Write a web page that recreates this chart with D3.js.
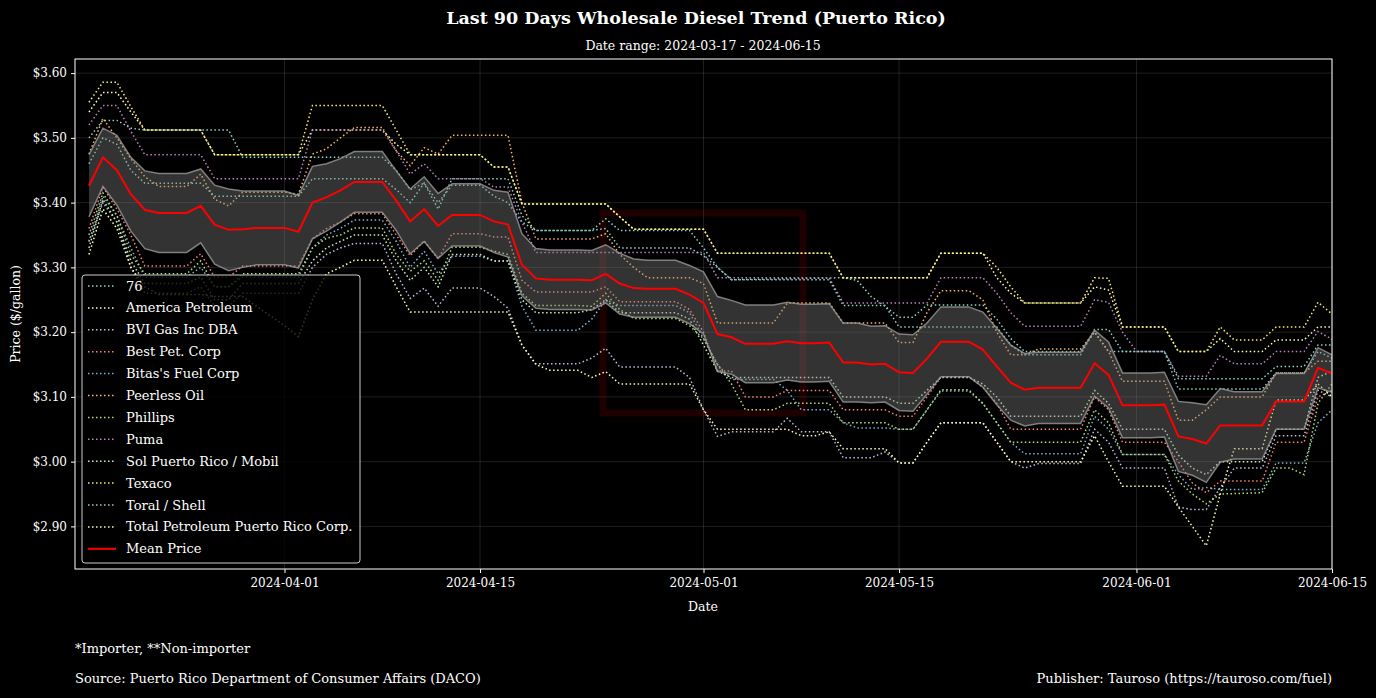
<!DOCTYPE html>
<html><head><meta charset="utf-8">
<script src="https://cdn.jsdelivr.net/npm/d3@7"></script>
<style>
html,body{margin:0;padding:0;background:#000;}
svg{display:block;}
text{font-family:"DejaVu Serif",serif;fill:#fff;}
</style></head><body>
<svg id="c" width="1376" height="698"></svg>
<script>
// ---------- DATA (day offset from 2024-03-17, price $/gal) ----------
const startDate = "2024-03-17";
const endDate = "2024-06-15";
const companies = ["76","America Petroleum","BVI Gas Inc DBA","Best Pet. Corp","Bitas's Fuel Corp","Peerless Oil","Phillips","Puma","Sol Puerto Rico / Mobil","Texaco","Toral / Shell","Total Petroleum Puerto Rico Corp."];

const s76 = [[1,3.50],[2,3.527],[3,3.527],[4,3.515],[5,3.512],[11,3.512],[12,3.470],[22,3.470],[23,3.45],[24,3.42],[25,3.43],[26,3.40],[27,3.427],[29,3.427],[30,3.41],[31,3.40],[32,3.37],[33,3.357],[37,3.357],[38,3.375],[39,3.357],[44,3.357],[45,3.33],[46,3.30],[47,3.281],[55,3.284],[56,3.28],[57,3.255],[58,3.24],[59,3.223],[60,3.223],[61,3.242],[65,3.242],[66,3.22],[67,3.19],[68,3.17],[72,3.17],[73,3.20],[74,3.17],[78,3.17],[79,3.128],[85,3.128],[86,3.147],[88,3.147],[89,3.18],[90,3.18]];
const sAmerica = [[1,3.54],[2,3.570],[3,3.570],[4,3.54],[5,3.512],[9,3.512],[10,3.474],[16,3.474],[17,3.512],[22,3.512],[23,3.49],[24,3.474],[29,3.474],[30,3.455],[31,3.455],[32,3.398],[38,3.398],[39,3.378],[40,3.359],[45,3.359],[46,3.322],[54,3.322],[55,3.284],[61,3.284],[62,3.322],[65,3.322],[66,3.284],[67,3.26],[68,3.245],[72,3.245],[73,3.270],[74,3.265],[75,3.208],[78,3.208],[79,3.170],[81,3.170],[82,3.19],[83,3.170],[85,3.170],[86,3.188],[88,3.188],[89,3.208],[90,3.208]];
const sBVI = [[1,3.34],[2,3.40],[3,3.37],[4,3.30],[5,3.26],[8,3.26],[9,3.27],[10,3.24],[11,3.24],[12,3.26],[16,3.26],[17,3.30],[18,3.32],[19,3.33],[20,3.337],[22,3.337],[23,3.29],[24,3.252],[25,3.268],[26,3.24],[27,3.268],[29,3.268],[30,3.255],[31,3.237],[32,3.18],[33,3.151],[36,3.151],[37,3.16],[38,3.175],[39,3.146],[43,3.146],[44,3.13],[45,3.08],[46,3.039],[47,3.046],[50,3.046],[51,3.067],[52,3.046],[54,3.046],[55,3.006],[57,3.006],[58,3.015],[59,2.998],[60,2.998],[61,3.03],[62,3.06],[65,3.06],[66,3.03],[67,3.0],[68,2.99],[69,2.997],[72,2.997],[73,3.05],[74,3.03],[75,2.99],[78,2.99],[79,2.93],[80,2.926],[81,2.926],[82,2.96],[83,2.99],[85,2.99],[86,3.04],[88,3.04],[89,3.11],[90,3.10]];
const sBest = [[1,3.36],[2,3.424],[3,3.39],[4,3.35],[5,3.302],[8,3.302],[9,3.321],[10,3.285],[11,3.285],[12,3.302],[16,3.302],[17,3.344],[18,3.36],[19,3.37],[20,3.383],[22,3.383],[23,3.35],[24,3.318],[25,3.341],[26,3.313],[27,3.352],[29,3.352],[30,3.347],[31,3.347],[32,3.28],[33,3.262],[37,3.262],[38,3.27],[39,3.247],[43,3.247],[44,3.235],[45,3.20],[46,3.14],[47,3.14],[48,3.10],[50,3.10],[51,3.11],[54,3.11],[55,3.08],[58,3.08],[59,3.07],[60,3.07],[61,3.10],[62,3.131],[64,3.131],[65,3.115],[66,3.09],[67,3.05],[72,3.05],[73,3.10],[74,3.08],[75,3.03],[78,3.03],[79,3.0],[80,2.967],[81,2.952],[82,2.97],[85,2.97],[86,3.03],[88,3.03],[89,3.10],[90,3.11]];
const sBitas = [[1,3.34],[2,3.41],[3,3.38],[4,3.33],[5,3.285],[8,3.285],[9,3.30],[10,3.27],[11,3.27],[12,3.285],[16,3.285],[17,3.33],[18,3.35],[19,3.36],[20,3.373],[22,3.373],[23,3.34],[24,3.30],[25,3.325],[26,3.29],[27,3.317],[29,3.317],[30,3.31],[31,3.31],[32,3.24],[33,3.203],[36,3.203],[37,3.22],[38,3.25],[39,3.241],[43,3.241],[44,3.23],[45,3.19],[46,3.15],[47,3.127],[50,3.127],[51,3.11],[52,3.08],[54,3.08],[55,3.06],[56,3.052],[58,3.052],[59,3.05],[60,3.05],[61,3.08],[62,3.109],[64,3.109],[65,3.09],[66,3.06],[67,3.03],[68,3.012],[72,3.012],[73,3.07],[74,3.05],[75,3.011],[78,3.011],[79,2.98],[80,2.957],[81,2.96],[82,2.957],[85,2.957],[86,2.998],[88,2.998],[89,3.06],[90,3.08]];
const sPeerless = [[1,3.475],[2,3.53],[3,3.50],[4,3.468],[5,3.44],[6,3.425],[8,3.425],[9,3.444],[10,3.405],[11,3.395],[12,3.416],[15,3.416],[16,3.413],[17,3.475],[18,3.483],[19,3.50],[20,3.516],[22,3.516],[23,3.48],[24,3.457],[25,3.485],[26,3.475],[27,3.504],[31,3.504],[32,3.40],[33,3.344],[37,3.344],[38,3.352],[39,3.32],[40,3.30],[41,3.284],[44,3.284],[45,3.275],[46,3.214],[50,3.214],[51,3.245],[54,3.245],[55,3.214],[58,3.214],[59,3.184],[60,3.184],[61,3.23],[62,3.264],[64,3.264],[65,3.25],[66,3.20],[67,3.165],[68,3.165],[69,3.174],[72,3.174],[73,3.20],[74,3.17],[75,3.124],[78,3.124],[79,3.064],[80,3.064],[81,3.08],[82,3.10],[85,3.10],[86,3.137],[88,3.137],[89,3.155],[90,3.155]];
const sPhillips = [[1,3.35],[2,3.415],[3,3.38],[4,3.32],[5,3.29],[8,3.29],[9,3.31],[10,3.27],[11,3.27],[12,3.29],[16,3.29],[17,3.33],[18,3.345],[19,3.35],[20,3.361],[22,3.361],[23,3.32],[24,3.294],[25,3.31],[26,3.28],[27,3.331],[29,3.331],[30,3.325],[31,3.32],[32,3.26],[33,3.241],[36,3.241],[37,3.24],[38,3.26],[39,3.235],[40,3.221],[43,3.221],[44,3.21],[45,3.19],[46,3.15],[47,3.12],[48,3.08],[50,3.08],[51,3.09],[54,3.09],[55,3.06],[58,3.06],[59,3.05],[60,3.05],[61,3.08],[62,3.111],[64,3.111],[65,3.09],[66,3.06],[67,3.03],[72,3.03],[73,3.08],[74,3.06],[75,3.011],[78,3.011],[79,2.97],[80,2.95],[81,2.935],[82,2.95],[85,2.952],[86,2.99],[87,2.99],[88,2.98],[89,3.09],[90,3.12]];
const sPuma = [[1,3.52],[2,3.550],[3,3.550],[4,3.51],[5,3.474],[9,3.474],[10,3.437],[16,3.437],[17,3.512],[22,3.512],[23,3.48],[24,3.444],[25,3.46],[26,3.437],[29,3.437],[30,3.424],[31,3.424],[32,3.37],[33,3.323],[45,3.323],[46,3.284],[54,3.284],[55,3.245],[61,3.245],[62,3.284],[65,3.284],[66,3.26],[67,3.23],[68,3.209],[72,3.209],[73,3.25],[74,3.246],[75,3.20],[76,3.17],[78,3.17],[79,3.132],[81,3.132],[82,3.164],[83,3.151],[85,3.151],[86,3.170],[88,3.170],[89,3.201],[90,3.189]];
const sSol = [[1,3.33],[2,3.405],[3,3.37],[4,3.31],[5,3.275],[8,3.275],[9,3.285],[10,3.25],[11,3.25],[12,3.275],[16,3.275],[17,3.31],[18,3.33],[19,3.34],[20,3.35],[22,3.35],[23,3.31],[24,3.28],[25,3.30],[26,3.27],[27,3.32],[29,3.32],[30,3.31],[31,3.31],[32,3.25],[33,3.23],[36,3.23],[37,3.235],[38,3.25],[39,3.23],[43,3.23],[44,3.22],[45,3.18],[46,3.14],[47,3.13],[54,3.13],[55,3.10],[58,3.10],[59,3.09],[60,3.09],[61,3.11],[62,3.13],[64,3.13],[65,3.12],[66,3.10],[67,3.07],[72,3.07],[73,3.11],[74,3.09],[75,3.05],[78,3.05],[79,3.01],[80,2.99],[81,2.98],[82,3.0],[85,3.0],[86,3.05],[88,3.05],[89,3.13],[90,3.14]];
const sTexaco = [[1,3.555],[2,3.586],[3,3.586],[4,3.548],[5,3.512],[9,3.512],[10,3.474],[16,3.474],[17,3.550],[22,3.550],[23,3.512],[24,3.474],[29,3.474],[30,3.455],[31,3.455],[32,3.398],[38,3.398],[39,3.378],[40,3.359],[45,3.359],[46,3.322],[54,3.322],[55,3.284],[61,3.284],[62,3.322],[65,3.322],[66,3.30],[67,3.27],[68,3.245],[72,3.245],[73,3.284],[74,3.283],[75,3.208],[78,3.208],[79,3.170],[81,3.170],[82,3.208],[83,3.188],[85,3.188],[86,3.208],[88,3.208],[89,3.246],[90,3.228]];
const sToral = [[1,3.46],[2,3.50],[3,3.49],[4,3.45],[5,3.43],[9,3.43],[10,3.41],[16,3.41],[17,3.437],[22,3.437],[23,3.42],[24,3.40],[25,3.43],[26,3.39],[27,3.437],[31,3.437],[32,3.38],[33,3.357],[37,3.357],[38,3.36],[39,3.33],[44,3.33],[45,3.318],[46,3.30],[47,3.281],[54,3.281],[55,3.241],[58,3.241],[59,3.208],[66,3.208],[67,3.18],[68,3.165],[72,3.165],[73,3.204],[74,3.204],[75,3.17],[78,3.17],[79,3.112],[85,3.112],[86,3.137],[88,3.137],[89,3.17],[90,3.16]];
const sTotal = [[1,3.32],[2,3.39],[3,3.36],[4,3.30],[5,3.27],[6,3.258],[9,3.258],[10,3.255],[12,3.255],[13,3.24],[14,3.225],[15,3.21],[16,3.193],[17,3.25],[18,3.29],[19,3.30],[20,3.311],[22,3.311],[23,3.27],[24,3.231],[31,3.231],[32,3.18],[33,3.15],[34,3.141],[36,3.141],[37,3.13],[38,3.139],[39,3.12],[44,3.12],[45,3.08],[46,3.05],[51,3.05],[52,3.04],[53,3.04],[54,3.046],[55,3.02],[58,3.02],[59,2.998],[60,2.998],[61,3.03],[62,3.06],[65,3.06],[66,3.03],[67,3.0],[72,3.0],[73,3.04],[74,3.0],[75,2.962],[78,2.962],[79,2.93],[80,2.90],[81,2.870],[82,2.95],[83,3.02],[85,3.02],[86,3.095],[88,3.095],[89,3.12],[90,3.10]];

// mean price for day 1..90 and half-width of the shaded band
const meanPrice = [3.426,3.470,3.450,3.413,3.389,3.384,3.384,3.384,3.395,3.366,3.358,3.359,3.361,3.361,3.361,3.355,3.400,3.408,3.419,3.432,3.432,3.432,3.403,3.371,3.390,3.364,3.381,3.381,3.381,3.371,3.366,3.304,3.283,3.281,3.281,3.281,3.280,3.290,3.275,3.268,3.267,3.267,3.267,3.258,3.245,3.197,3.192,3.182,3.182,3.182,3.186,3.183,3.183,3.184,3.153,3.153,3.150,3.151,3.138,3.137,3.159,3.185,3.185,3.185,3.173,3.147,3.122,3.111,3.114,3.114,3.114,3.114,3.152,3.134,3.087,3.087,3.087,3.088,3.039,3.035,3.028,3.056,3.056,3.056,3.056,3.093,3.093,3.093,3.145,3.136];
const bandHalf = [0.048,0.045,0.054,0.057,0.060,0.061,0.061,0.061,0.057,0.061,0.063,0.059,0.057,0.057,0.057,0.056,0.056,0.052,0.049,0.047,0.047,0.047,0.046,0.050,0.050,0.050,0.048,0.048,0.048,0.048,0.050,0.048,0.046,0.046,0.046,0.046,0.046,0.045,0.047,0.045,0.044,0.044,0.044,0.045,0.048,0.058,0.057,0.060,0.060,0.060,0.060,0.060,0.060,0.060,0.061,0.061,0.059,0.059,0.059,0.059,0.055,0.054,0.054,0.054,0.058,0.059,0.058,0.056,0.055,0.055,0.055,0.055,0.051,0.051,0.050,0.050,0.050,0.050,0.054,0.056,0.060,0.057,0.052,0.052,0.052,0.043,0.043,0.043,0.031,0.029];

const yTicks = [2.90,3.00,3.10,3.20,3.30,3.40,3.50,3.60];
const xTickLabels = ["2024-04-01","2024-04-15","2024-05-01","2024-05-15","2024-06-01","2024-06-15"];
const seriesColors = ["#8dd3c7","#feffb3","#bfbbd9","#fa8174","#81b1d2","#fdb462","#b3de69","#bc82bd","#ccebc4","#ffed6f","#8dd3c7","#feffb3"];

// ---------- CHART ----------
const series = [s76,sAmerica,sBVI,sBest,sBitas,sPeerless,sPhillips,sPuma,sSol,sTexaco,sToral,sTotal];
const W = 1376, H = 698;
const M = {l:75, r:1332, t:59, b:569};
const FONT = '"DejaVu Serif",serif';
const svg = d3.select('#c');
svg.append('rect').attr('width',W).attr('height',H).attr('fill','#000');

const parse = d3.utcParse('%Y-%m-%d');
const t0 = parse(startDate);
const dayDate = d => d3.utcDay.offset(t0, d);
const x = d3.scaleUtc().domain([t0, parse(endDate)]).range([M.l, M.r]);

const allVals = series.flatMap(s => s.map(p => p[1]));
const lo = d3.min(allVals), hi = d3.max(allVals), pad = (hi - lo) * 0.05;
const y = d3.scaleLinear().domain([lo - pad, hi + pad]).range([M.b, M.t]);

// grid
const grid = svg.append('g');
grid.selectAll('.gy').data(yTicks).join('line')
  .attr('x1', M.l).attr('x2', M.r).attr('y1', d => y(d)).attr('y2', d => y(d))
  .attr('stroke', '#fff').attr('stroke-opacity', 0.15).attr('stroke-width', 0.8);
grid.selectAll('.gx').data(xTickLabels).join('line')
  .attr('y1', M.t).attr('y2', M.b).attr('x1', d => x(parse(d))).attr('x2', d => x(parse(d)))
  .attr('stroke', '#fff').attr('stroke-opacity', 0.15).attr('stroke-width', 0.8);

// watermark
const wm = svg.append('g').attr('opacity', 0.12);
wm.append('rect').attr('x', 603).attr('y', 213).attr('width', 200).attr('height', 200)
  .attr('fill', 'none').attr('stroke', '#ff0000').attr('stroke-width', 7);

svg.append('clipPath').attr('id','pc').append('rect')
  .attr('x', M.l).attr('y', M.t).attr('width', M.r - M.l).attr('height', M.b - M.t);
const plot = svg.append('g').attr('clip-path', 'url(#pc)');

const line = d3.line().x(p => x(dayDate(p[0]))).y(p => y(p[1]));
series.forEach((s, i) => {
  plot.append('path').attr('d', line(s)).attr('fill', 'none')
    .attr('stroke', seriesColors[i]).attr('stroke-width', 1.5)
    .attr('stroke-dasharray', '1.5,2.5').attr('stroke-opacity', 1);
});

// band
const bandData = meanPrice.map((m, i) => ({d: i + 1, m, h: bandHalf[i]}));
const area = d3.area().x(p => x(dayDate(p.d))).y0(p => y(p.m - p.h)).y1(p => y(p.m + p.h));
plot.append('path').attr('d', area(bandData)).attr('fill', '#808080').attr('fill-opacity', 0.4);
const upper = d3.line().x(p => x(dayDate(p.d))).y(p => y(p.m + p.h));
const lower = d3.line().x(p => x(dayDate(p.d))).y(p => y(p.m - p.h));
plot.append('path').attr('d', upper(bandData)).attr('fill','none').attr('stroke','#999').attr('stroke-width',1.5).attr('stroke-opacity',0.8);
plot.append('path').attr('d', lower(bandData)).attr('fill','none').attr('stroke','#999').attr('stroke-width',1.5).attr('stroke-opacity',0.8);
const meanLine = d3.line().x(p => x(dayDate(p.d))).y(p => y(p.m));
plot.append('path').attr('d', meanLine(bandData)).attr('fill','none').attr('stroke','#ff0000').attr('stroke-width',2);

// frame
svg.append('rect').attr('x', M.l).attr('y', M.t).attr('width', M.r - M.l).attr('height', M.b - M.t)
  .attr('fill', 'none').attr('stroke', '#fff').attr('stroke-width', 1);

// axes
const yAxis = d3.axisLeft(y).tickValues(yTicks).tickFormat(d => '$' + d.toFixed(2)).tickSize(4).tickPadding(4);
const gy = svg.append('g').attr('transform', `translate(${M.l},0)`).call(yAxis);
const xAxis = d3.axisBottom(x).tickValues(xTickLabels.map(parse)).tickFormat(d3.utcFormat('%Y-%m-%d')).tickSize(4).tickPadding(5);
const gx = svg.append('g').attr('transform', `translate(0,${M.b})`).call(xAxis);
[gy, gx].forEach(g => {
  g.select('.domain').remove();
  g.selectAll('.tick line').attr('stroke', '#fff');
  g.selectAll('.tick text').attr('fill', '#fff').style('font-size', '12px').style('font-family', FONT);
});

// labels
svg.append('text').attr('x', 703).attr('y', 611).attr('text-anchor', 'middle').style('font-size', '12.5px').text('Date');
svg.append('text').attr('transform', 'translate(20,314) rotate(-90)').attr('text-anchor', 'middle').style('font-size', '12.5px').text('Price ($/gallon)');
svg.append('text').attr('x', 696).attr('y', 24).attr('text-anchor', 'middle').style('font-size', '17.5px').style('font-weight', 'bold')
  .text('Last 90 Days Wholesale Diesel Trend (Puerto Rico)');
svg.append('text').attr('x', 703).attr('y', 50).attr('text-anchor', 'middle').style('font-size', '12.5px')
  .text(`Date range: ${startDate} - ${endDate}`);
svg.append('text').attr('x', 75).attr('y', 653).style('font-size', '13px').text('*Importer, **Non-importer');
svg.append('text').attr('x', 75).attr('y', 683).style('font-size', '13px').text('Source: Puerto Rico Department of Consumer Affairs (DACO)');
svg.append('text').attr('x', 1332).attr('y', 683).attr('text-anchor', 'end').style('font-size', '13px').text('Publisher: Tauroso (https://tauroso.com/fuel)');

// legend
const lg = svg.append('g');
lg.append('rect').attr('x', 82).attr('y', 275).attr('width', 278).attr('height', 288).attr('rx', 3)
  .attr('fill', '#000').attr('fill-opacity', 0.8).attr('stroke', '#ccc').attr('stroke-width', 1);
const legendItems = companies.map((c, i) => ({label: c, color: seriesColors[i], mean: false}))
  .concat([{label: 'Mean Price', color: '#ff0000', mean: true}]);
legendItems.forEach((it, i) => {
  const yy = 286 + i * 21.9;
  lg.append('line').attr('x1', 88).attr('x2', 116).attr('y1', yy).attr('y2', yy)
    .attr('stroke', it.color).attr('stroke-width', it.mean ? 2 : 1.5)
    .attr('stroke-dasharray', it.mean ? null : '1.5,2.5');
  lg.append('text').attr('x', 126).attr('y', yy + 4.5).style('font-size', '13px').text(it.label);
});
</script></body></html>
